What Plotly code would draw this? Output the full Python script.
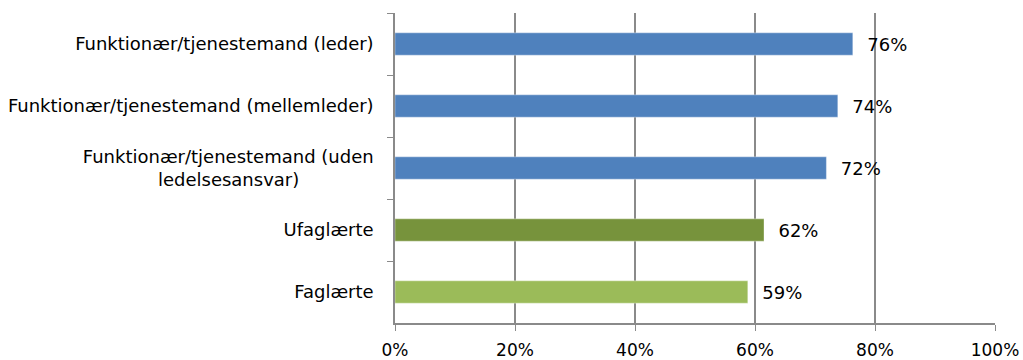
import plotly.graph_objects as go

NB = "\u00a0"
categories = [
    "Funktionær/tjenestemand (leder)",
    "Funktionær/tjenestemand (mellemleder)",
    "Funktionær/tjenestemand (uden<br>ledelsesansvar)" + NB * 13,
    "Ufaglærte",
    "Faglærte",
]
values = [76.3, 73.8, 71.9, 61.5, 58.8]
colors = ["#4F81BD", "#4F81BD", "#4F81BD", "#77933C", "#9BBB59"]
x_ticks = [0, 20, 40, 60, 80, 100]
x_tick_labels = ["0%", "20%", "40%", "60%", "80%", "100%"]

FONT = "DejaVu Sans"

fig = go.Figure(
    go.Bar(
        x=values,
        y=categories,
        orientation="h",
        marker=dict(color=colors, line=dict(color="rgba(255,255,255,0.35)", width=1)),
        width=0.36,
        text=values,
        texttemplate=NB + " %{x:.0f}%",
        textposition="outside",
        textfont=dict(family=FONT, size=18, color="#000"),
        cliponaxis=False,
    )
)

fig.update_layout(
    width=1023,
    height=360,
    margin=dict(l=395, r=28, t=13, b=37, autoexpand=False),
    paper_bgcolor="white",
    plot_bgcolor="white",
    showlegend=False,
    font=dict(family=FONT, size=18, color="#000"),
    xaxis=dict(
        range=[0, 100],
        tickvals=x_ticks,
        ticktext=x_tick_labels,
        showgrid=True,
        gridcolor="#8a8a8a",
        gridwidth=1.5,
        showline=True,
        linecolor="#8a8a8a",
        linewidth=1.5,
        ticks="outside",
        ticklen=6,
        tickcolor="#8a8a8a",
        tickfont=dict(family=FONT, size=17, color="#000"),
        ticklabelstandoff=5,
        zeroline=False,
        automargin=False,
        fixedrange=True,
    ),
    yaxis=dict(
        autorange="reversed",
        showline=True,
        linecolor="#8a8a8a",
        linewidth=1.5,
        ticks="outside",
        tickson="boundaries",
        ticklen=6,
        tickcolor="#8a8a8a",
        tickfont=dict(family=FONT, size=18, color="#000"),
        showgrid=False,
        ticklabelstandoff=16,
        automargin=False,
        fixedrange=True,
    ),
)

fig.write_html("out.html")
